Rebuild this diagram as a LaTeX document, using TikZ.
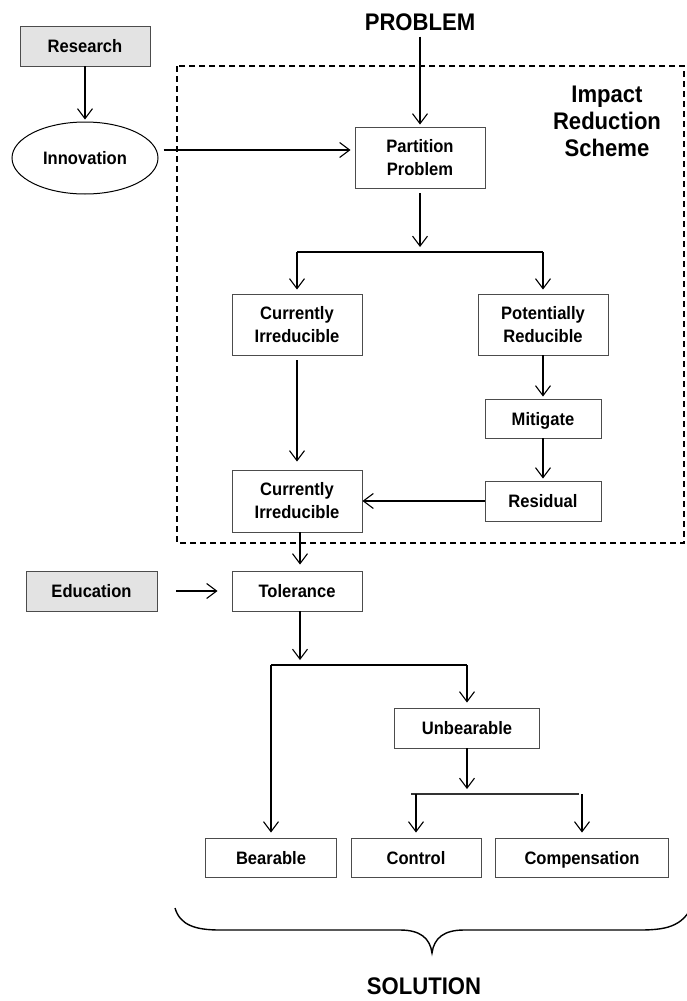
\documentclass[tikz,border=0pt]{standalone}
\usepackage{fontspec}
\setmainfont{Liberation Sans}[FakeStretch=0.92]
\usetikzlibrary{arrows.meta,shapes.geometric}
\begin{document}
\begin{tikzpicture}[x=1pt,y=-1pt,
  box/.style={draw=black!70,line width=0.9pt,fill=white,inner sep=0pt,align=center,
    font=\fontsize{18}{23}\selectfont\bfseries},
  one/.style={text height=13pt,text depth=0pt},
  greybox/.style={box,fill=black!11},
  arr/.style={-{Straight Barb[length=10pt,width=15pt]},line width=1.1pt},
  plain/.style={line width=1.1pt},
  title/.style={font=\fontsize{24}{27}\selectfont\bfseries,align=center,inner sep=0pt}]
\fill[white] (0,0) rectangle (687,1001);
\useasboundingbox (0,0) rectangle (687,1001);
% dashed scheme frame
\draw[line width=1.4pt,dash pattern=on 6pt off 4pt] (177,66) rectangle (684,543);
% titles
\node[title] (problem) at (420,22) {PROBLEM};
\node[title] (impact) at (607,121) {Impact\\Reduction\\Scheme};
\node[title] (solution) at (424,986) {SOLUTION};
% nodes
\node[greybox,one,minimum width=130pt,minimum height=40pt] (research) at (85,46) {Research};
\node[draw=black,line width=1pt,ellipse,minimum width=146pt,minimum height=72pt,inner sep=0pt,
  one,font=\fontsize{18}{23}\selectfont\bfseries] (innovation) at (85,158) {Innovation};
\node[box,minimum width=130pt,minimum height=61pt] (partition) at (420,157.5) {Partition\\Problem};
\node[box,minimum width=130pt,minimum height=61pt] (ci1) at (297,324.5) {Currently\\Irreducible};
\node[box,minimum width=130pt,minimum height=61pt] (pr) at (543,324.5) {Potentially\\Reducible};
\node[box,one,minimum width=116pt,minimum height=39pt] (mitigate) at (543,418.5) {Mitigate};
\node[box,one,minimum width=116pt,minimum height=40pt] (residual) at (543,501) {Residual};
\node[box,minimum width=130pt,minimum height=62pt] (ci2) at (297,501) {Currently\\Irreducible};
\node[greybox,one,minimum width=131pt,minimum height=40pt] (education) at (91.5,591) {Education};
\node[box,one,minimum width=130pt,minimum height=40pt] (tolerance) at (297,591) {Tolerance};
\node[box,one,minimum width=145pt,minimum height=40pt] (unbearable) at (467,728) {Unbearable};
\node[box,one,minimum width=131pt,minimum height=39pt] (bearable) at (271,857.5) {Bearable};
\node[box,one,minimum width=130pt,minimum height=39pt] (control) at (416,857.5) {Control};
\node[box,one,minimum width=173pt,minimum height=39pt] (compensation) at (582,857.5) {Compensation};
% junction coordinates
\coordinate (j1) at (420,252);
\coordinate (j2) at (300,665);
\coordinate (j3) at (467,794);
% connectors
\draw[arr,shorten <=6pt,shorten >=2pt] (problem.south) -- (partition.north);
\draw[arr,shorten >=2pt] (research.south) -- (innovation.north);
\draw[arr,shorten >=4pt] ([shift={(5,-8)}]innovation.east) -- (partition.west |- 0,150);
\draw[arr,shorten <=5pt,shorten >=5pt] (partition.south) -- (j1);
\draw[plain] (ci1.north |- j1) -- (pr.north |- j1);
\draw[arr,shorten >=4pt] (ci1.north |- j1) -- (ci1.north);
\draw[arr,shorten >=4pt] (pr.north |- j1) -- (pr.north);
\draw[arr,shorten <=5pt,shorten >=8pt] (ci1.south) -- (ci2.north);
\draw[arr,shorten >=2pt] (pr.south) -- (mitigate.north);
\draw[arr,shorten >=2pt] (mitigate.south) -- (residual.north);
\draw[arr] (residual.west) -- (ci2.east);
\draw[arr,shorten >=6pt] (ci2.south -| j2) -- (tolerance.north -| j2);
\draw[arr,shorten <=19pt,shorten >=14pt] (education.east) -- (tolerance.west);
\draw[arr,shorten >=5pt] (tolerance.south -| j2) -- (j2);
\draw[plain] (bearable.north |- j2) -- (unbearable.north |- j2);
\draw[arr,shorten >=5pt] (bearable.north |- j2) -- (bearable.north);
\draw[arr,shorten >=5pt] (unbearable.north |- j2) -- (unbearable.north);
\draw[arr,shorten >=5pt] (unbearable.south) -- (j3);
\draw[line width=2pt,black!80] (411,794) -- (579,794);
\draw[arr,shorten >=5pt] (control.north |- j3) -- (control.north);
\draw[arr,shorten >=5pt] (compensation.north |- j3) -- (compensation.north);
% brace
\draw[line width=1.4pt] (175,908) .. controls (180,925) and (195,930) .. (220,930)
  -- (400,930) .. controls (420,930) and (430,938) .. (432,953)
  .. controls (434,938) and (444,930) .. (464,930)
  -- (640,930) .. controls (670,930) and (685,925) .. (695,900);
\end{tikzpicture}
\end{document}
